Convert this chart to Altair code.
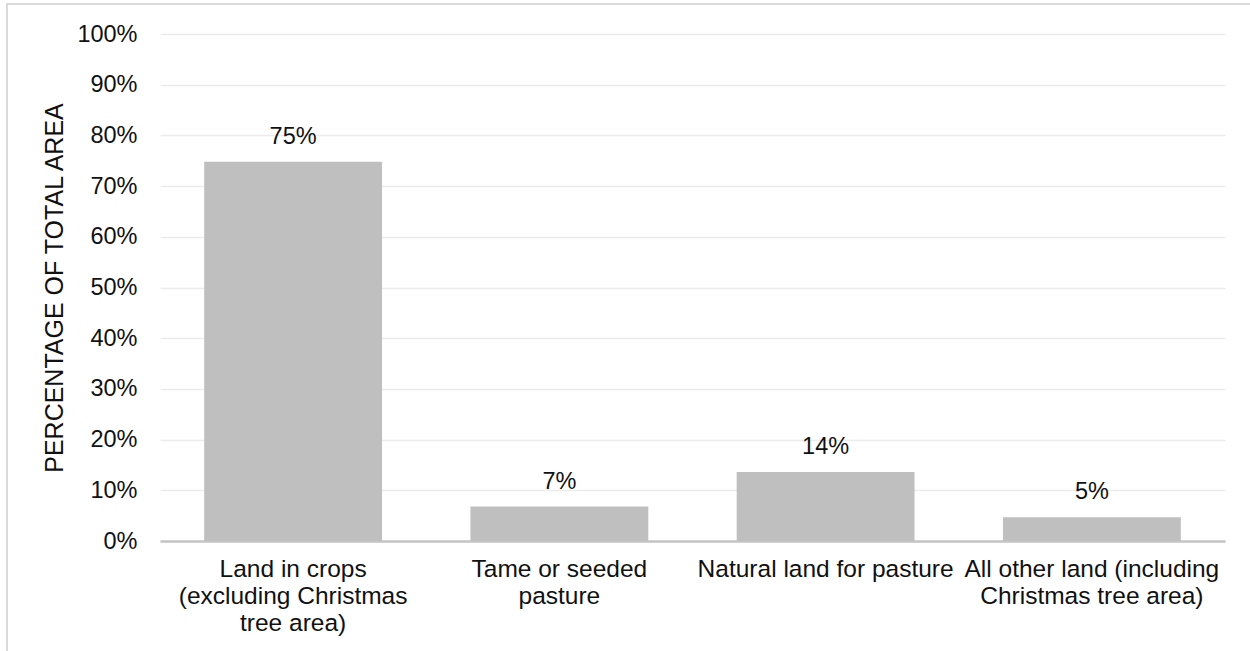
import altair as alt
import pandas as pd

# Share of total farm area by land use
categories = [
    "Land in crops|(excluding Christmas|tree area)",
    "Tame or seeded|pasture",
    "Natural land for pasture",
    "All other land (including|Christmas tree area)",
]
shares = [0.748, 0.068, 0.136, 0.047]
y_ticks = [i / 10 for i in range(11)]

FONT = "Liberation Sans"
TEXT = "#111111"

df = pd.DataFrame({"category": categories, "share": shares})

x_enc = alt.X(
    "category:N",
    sort=categories,
    title=None,
    scale=alt.Scale(paddingInner=0.332, paddingOuter=0.166),
    axis=alt.Axis(
        labelAngle=0,
        labelExpr="split(datum.label, '|')",
        labelFont=FONT,
        labelFontSize=24.5,
        labelColor=TEXT,
        labelLineHeight=27,
        labelBaseline="top",
        labelPadding=16,
        labelLimit=400,
        ticks=False,
        domain=True,
        domainColor="#c4c4c4",
        domainWidth=2.5,
        grid=False,
    ),
)

y_enc = alt.Y(
    "share:Q",
    scale=alt.Scale(domain=[0, 1], nice=False),
    axis=alt.Axis(
        values=y_ticks,
        format=".0%",
        title="PERCENTAGE OF TOTAL AREA",
        titleFont=FONT,
        titleFontSize=25,
        titleFontWeight="normal",
        titleColor=TEXT,
        titleAngle=-90,
        titleAlign="center",
        titleBaseline="alphabetic",
        titleX=-98,
        titleY=253.5,
        labelFont=FONT,
        labelFontSize=23.5,
        labelColor=TEXT,
        labelPadding=23,
        ticks=False,
        domain=False,
        grid=True,
        gridColor="#ececec",
        gridWidth=1.5,
    ),
)

bars = alt.Chart(df).mark_bar(color="#bfbfbf").encode(x=x_enc, y=y_enc)

labels = alt.Chart(df).mark_text(
    font=FONT, fontSize=23.5, color=TEXT, baseline="alphabetic", dy=-18
).encode(
    x=alt.X("category:N", sort=categories),
    y="share:Q",
    text=alt.Text("share:Q", format=".0%"),
)

# Thin frame around the chart area (top and left edges)
frame_df = pd.DataFrame({"k": [0]})
frame_top = alt.Chart(frame_df).mark_rule(color="#d9d9d9", strokeWidth=2).encode(
    x=alt.value(-153), x2=alt.value(1100), y=alt.value(-30)
)
frame_left = alt.Chart(frame_df).mark_rule(color="#d9d9d9", strokeWidth=2).encode(
    x=alt.value(-153), y=alt.value(-31), y2=alt.value(630)
)

chart = (
    alt.layer(bars, labels, frame_top, frame_left)
    .properties(
        width=1065,
        height=507,
        padding={"left": 160, "top": 34, "right": 25, "bottom": 110},
        autosize=alt.AutoSizeParams(type="none"),
        background="white",
    )
    .configure_view(stroke=None)
)

chart.save("out.html", embed_options={"renderer": "svg", "actions": False})
